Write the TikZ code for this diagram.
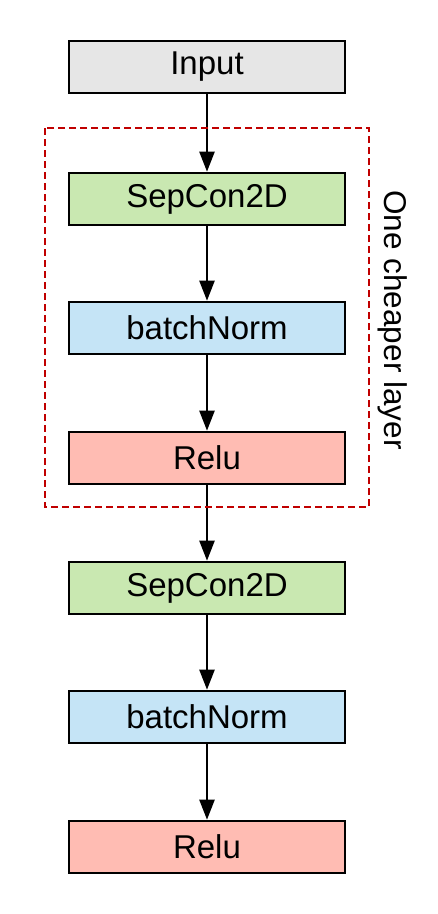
\documentclass[tikz,border=0pt]{standalone}
\usepackage{fontspec}
\setmainfont{Liberation Sans}
\usetikzlibrary{arrows.meta}
\definecolor{cgray}{HTML}{E6E6E6}
\definecolor{cgreen}{HTML}{C9E8B1}
\definecolor{cblue}{HTML}{C5E4F6}
\definecolor{cred}{HTML}{FFBCB3}
\definecolor{cdash}{HTML}{C00000}
\begin{document}
\begin{tikzpicture}[x=1pt,y=-1pt,
  layerbox/.style={draw=black,line width=2.6pt,minimum width=276pt,minimum height=52pt,inner sep=0pt,
    font=\fontsize{33}{38}\selectfont},
  flow/.style={line width=2.3pt,-{Triangle[width=15pt,length=20pt]}}]
\useasboundingbox (0,0) rectangle (437,914);
\node[layerbox,fill=cgray] (in) at (207,67) {Input};
\node[layerbox,fill=cgreen] (s1) at (207,199) {SepCon2D};
\node[layerbox,fill=cblue] (b1) at (207,328) {batchNorm};
\node[layerbox,fill=cred] (r1) at (207,458) {Relu};
\node[layerbox,fill=cgreen] (s2) at (207,588) {SepCon2D};
\node[layerbox,fill=cblue] (b2) at (207,717) {batchNorm};
\node[layerbox,fill=cred] (r2) at (207,847) {Relu};
\draw[flow] (in) -- (s1);
\draw[flow] (s1) -- (b1);
\draw[flow] (b1) -- (r1);
\draw[flow] (r1) -- (s2);
\draw[flow] (s2) -- (b2);
\draw[flow] (b2) -- (r2);
\draw[cdash,line width=2.6pt,dash pattern=on 7pt off 4pt] (45,128) rectangle (369,507);
\node[rotate=-90,font=\fontsize{31.5}{36}\selectfont,inner sep=0pt] (lbl) at (393,320) {One cheaper layer};
\end{tikzpicture}
\end{document}
